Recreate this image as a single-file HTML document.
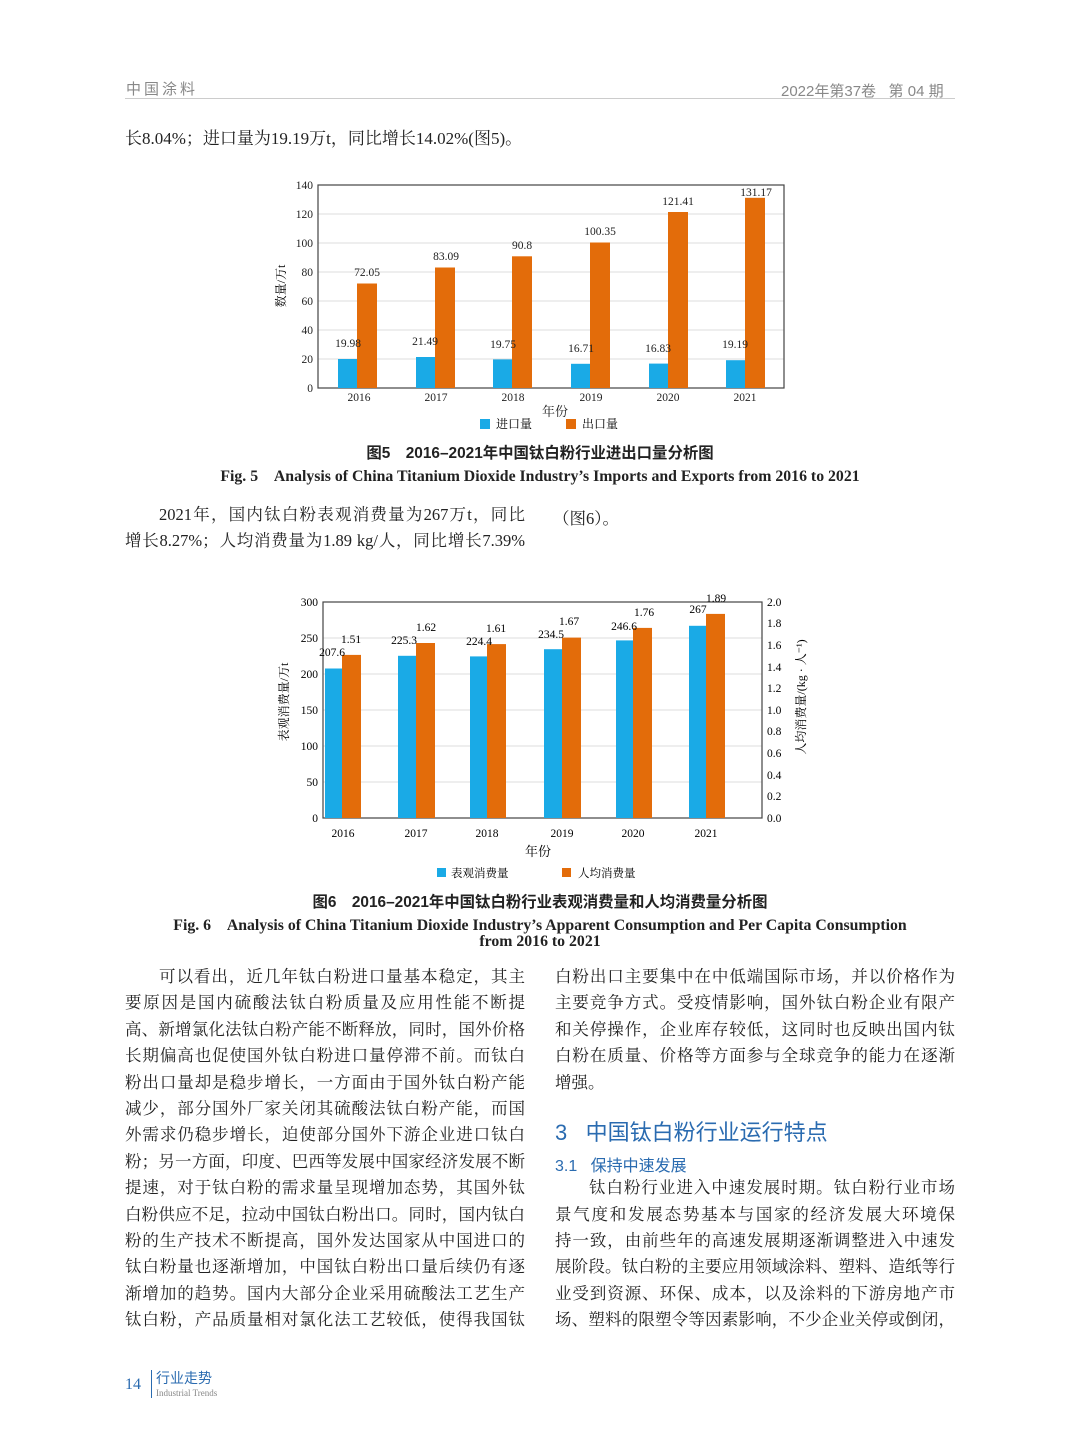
<!DOCTYPE html>
<html><head><meta charset="utf-8"><style>
body{margin:0;width:1080px;height:1454px;background:#fff;position:relative;overflow:hidden;font-family:"Liberation Serif","Noto Serif CJK SC",serif;color:#222}
.a{position:absolute;white-space:nowrap}
.ln{position:absolute;font-size:16.5px;line-height:20px;text-align:justify;text-align-last:justify;white-space:nowrap;overflow:visible}
.l{left:125px;width:400px}.r{left:555px;width:400px}
.cap{position:absolute;left:0;width:1080px;text-align:center;font-weight:bold;font-size:15.8px}
.cz{font-size:15.4px}
</style></head><body>
<div class="a" style="left:126px;top:78px;font-size:15px;color:#888;letter-spacing:3px;font-family:'Liberation Sans','Noto Sans CJK SC',sans-serif">中国涂料</div>
<div class="a" style="left:781px;top:80px;font-size:15px;color:#888;font-family:'Liberation Sans','Noto Sans CJK SC',sans-serif">2022年第37卷&nbsp;&nbsp;&nbsp;第 04 期</div>
<div class="a" style="left:125px;top:98px;width:830px;height:1px;background:#ccc"></div>
<div class="a" style="left:125px;top:124px;font-size:17px">长8.04%；进口量为19.19万t，同比增长14.02%(图5)。</div>

<svg class="a" style="left:0;top:0" width="1080" height="1454" font-family="Liberation Serif,Noto Serif CJK SC,serif">
<g stroke="#ddd" stroke-width="1">
<line x1="318" x2="784" y1="359" y2="359"/><line x1="318" x2="784" y1="330" y2="330"/><line x1="318" x2="784" y1="301" y2="301"/><line x1="318" x2="784" y1="272" y2="272"/><line x1="318" x2="784" y1="243" y2="243"/><line x1="318" x2="784" y1="214" y2="214"/>
</g>
<rect x="318" y="185" width="466" height="203" fill="none" stroke="#444" stroke-width="1.2"/>
<g font-size="11.5" text-anchor="end" fill="#222">
<text x="313" y="392">0</text><text x="313" y="363">20</text><text x="313" y="334">40</text><text x="313" y="305">60</text><text x="313" y="276">80</text><text x="313" y="247">100</text><text x="313" y="218">120</text><text x="313" y="189">140</text></g>
<g fill="#1aaae6">
<rect x="338" y="359" width="19" height="29"/><rect x="416" y="357" width="19" height="31"/><rect x="493" y="359.4" width="19" height="28.6"/><rect x="571" y="363.8" width="19" height="24.2"/><rect x="649" y="363.6" width="19" height="24.4"/><rect x="726" y="360.2" width="19" height="27.8"/></g>
<g fill="#e36c0a">
<rect x="357" y="283.5" width="20" height="104.5"/><rect x="435" y="267.5" width="20" height="120.5"/><rect x="512" y="256.3" width="20" height="131.7"/><rect x="590" y="242.5" width="20" height="145.5"/><rect x="668" y="212" width="20" height="176"/><rect x="745" y="197.8" width="20" height="190.2"/></g>
<g font-size="11.5" text-anchor="middle" fill="#222">
<text x="348" y="347">19.98</text><text x="425" y="345">21.49</text><text x="503" y="348">19.75</text><text x="581" y="352">16.71</text><text x="658" y="352">16.83</text><text x="735" y="348">19.19</text>
<text x="367" y="276">72.05</text><text x="446" y="260">83.09</text><text x="522" y="249">90.8</text><text x="600" y="235">100.35</text><text x="678" y="205">121.41</text><text x="756" y="196">131.17</text>
<text x="359" y="401">2016</text><text x="436" y="401">2017</text><text x="513" y="401">2018</text><text x="591" y="401">2019</text><text x="668" y="401">2020</text><text x="745" y="401">2021</text>
<text x="555" y="416" font-size="13">年份</text></g>
<text transform="translate(285,286) rotate(-90)" font-size="12" text-anchor="middle">数量/万t</text>
<rect x="480" y="419" width="10" height="10" fill="#1aaae6"/><text x="496" y="428" font-size="12">进口量</text>
<rect x="566" y="419" width="10" height="10" fill="#e36c0a"/><text x="582" y="428" font-size="12">出口量</text>

<g stroke="#ddd" stroke-width="1">
<line x1="323" x2="762" y1="782" y2="782"/><line x1="323" x2="762" y1="746" y2="746"/><line x1="323" x2="762" y1="710" y2="710"/><line x1="323" x2="762" y1="674" y2="674"/><line x1="323" x2="762" y1="638" y2="638"/></g>
<rect x="323" y="602" width="439" height="216" fill="none" stroke="#444" stroke-width="1.2"/>
<g font-size="11.5" text-anchor="end"><text x="318" y="822">0</text><text x="318" y="786">50</text><text x="318" y="750">100</text><text x="318" y="714">150</text><text x="318" y="678">200</text><text x="318" y="642">250</text><text x="318" y="606">300</text></g>
<g font-size="11.5"><text x="767" y="822">0.0</text><text x="767" y="800">0.2</text><text x="767" y="779">0.4</text><text x="767" y="757">0.6</text><text x="767" y="735">0.8</text><text x="767" y="714">1.0</text><text x="767" y="692">1.2</text><text x="767" y="671">1.4</text><text x="767" y="649">1.6</text><text x="767" y="627">1.8</text><text x="767" y="606">2.0</text></g>
<g fill="#1aaae6"><rect x="325" y="668.5" width="17" height="149.5"/><rect x="398" y="655.8" width="18" height="162.2"/><rect x="470" y="656.4" width="17" height="161.6"/><rect x="544" y="649.2" width="18" height="168.8"/><rect x="616" y="640.4" width="17" height="177.6"/><rect x="689" y="625.8" width="17" height="192.2"/></g>
<g fill="#e36c0a"><rect x="342" y="654.9" width="19" height="163.1"/><rect x="416" y="643" width="19" height="175"/><rect x="487" y="644.1" width="19" height="173.9"/><rect x="562" y="637.6" width="19" height="180.4"/><rect x="633" y="627.9" width="19" height="190.1"/><rect x="706" y="613.9" width="19" height="204.1"/></g>
<g font-size="11.5" text-anchor="middle">
<text x="332" y="656">207.6</text><text x="404" y="644">225.3</text><text x="479" y="645">224.4</text><text x="551" y="638">234.5</text><text x="624" y="630">246.6</text><text x="698" y="613">267</text>
<text x="351" y="643">1.51</text><text x="426" y="631">1.62</text><text x="496" y="632">1.61</text><text x="569" y="625">1.67</text><text x="644" y="616">1.76</text><text x="716" y="602">1.89</text>
<text x="343" y="837">2016</text><text x="416" y="837">2017</text><text x="487" y="837">2018</text><text x="562" y="837">2019</text><text x="633" y="837">2020</text><text x="706" y="837">2021</text>
<text x="538" y="856" font-size="13">年份</text></g>
<text transform="translate(288,702) rotate(-90)" font-size="12" text-anchor="middle">表观消费量/万t</text>
<text transform="translate(805,697) rotate(-90)" font-size="12" text-anchor="middle">人均消费量/(kg · 人⁻¹)</text>
<rect x="437" y="868" width="9" height="9" fill="#1aaae6"/><text x="451" y="877" font-size="11.5">表观消费量</text>
<rect x="562" y="868" width="9" height="9" fill="#e36c0a"/><text x="578" y="877" font-size="11.5">人均消费量</text>
</svg>

<div class="cap cz" style="top:441px;font-family:'Liberation Sans','Noto Sans CJK SC',sans-serif">图5　2016–2021年中国钛白粉行业进出口量分析图</div>
<div class="cap" style="top:463px">Fig. 5　Analysis of China Titanium Dioxide Industry’s Imports and Exports from 2016 to 2021</div>

<div class="ln l" style="top:505px;left:159px;width:366px">2021年，国内钛白粉表观消费量为267万t，同比</div>
<div class="ln l" style="top:531px">增长8.27%；人均消费量为1.89 kg/人，同比增长7.39%</div>
<div class="a" style="left:553px;top:505px;font-size:16.5px">（图6）。</div>

<div class="cap cz" style="top:890px;font-family:'Liberation Sans','Noto Sans CJK SC',sans-serif">图6　2016–2021年中国钛白粉行业表观消费量和人均消费量分析图</div>
<div class="cap" style="top:912px">Fig. 6　Analysis of China Titanium Dioxide Industry’s Apparent Consumption and Per Capita Consumption</div>
<div class="cap" style="top:933px">from 2016 to 2021</div>

<div class="ln l" style="top:967px;left:159px;width:366px">可以看出，近几年钛白粉进口量基本稳定，其主</div>
<div class="ln l" style="top:993px">要原因是国内硫酸法钛白粉质量及应用性能不断提</div>
<div class="ln l" style="top:1020px">高、新增氯化法钛白粉产能不断释放，同时，国外价格</div>
<div class="ln l" style="top:1046px">长期偏高也促使国外钛白粉进口量停滞不前。而钛白</div>
<div class="ln l" style="top:1073px">粉出口量却是稳步增长，一方面由于国外钛白粉产能</div>
<div class="ln l" style="top:1099px">减少，部分国外厂家关闭其硫酸法钛白粉产能，而国</div>
<div class="ln l" style="top:1125px">外需求仍稳步增长，迫使部分国外下游企业进口钛白</div>
<div class="ln l" style="top:1152px">粉；另一方面，印度、巴西等发展中国家经济发展不断</div>
<div class="ln l" style="top:1178px">提速，对于钛白粉的需求量呈现增加态势，其国外钛</div>
<div class="ln l" style="top:1205px">白粉供应不足，拉动中国钛白粉出口。同时，国内钛白</div>
<div class="ln l" style="top:1231px">粉的生产技术不断提高，国外发达国家从中国进口的</div>
<div class="ln l" style="top:1257px">钛白粉量也逐渐增加，中国钛白粉出口量后续仍有逐</div>
<div class="ln l" style="top:1284px">渐增加的趋势。国内大部分企业采用硫酸法工艺生产</div>
<div class="ln l" style="top:1310px">钛白粉，产品质量相对氯化法工艺较低，使得我国钛</div>

<div class="ln r" style="top:967px">白粉出口主要集中在中低端国际市场，并以价格作为</div>
<div class="ln r" style="top:993px">主要竞争方式。受疫情影响，国外钛白粉企业有限产</div>
<div class="ln r" style="top:1020px">和关停操作，企业库存较低，这同时也反映出国内钛</div>
<div class="ln r" style="top:1046px">白粉在质量、价格等方面参与全球竞争的能力在逐渐</div>
<div class="a" style="left:555px;top:1073px;font-size:16.5px;line-height:20px">增强。</div>
<div class="a" style="left:555px;top:1115px;font-size:22px;color:#2a6bb0;font-family:'Liberation Sans','Noto Sans CJK SC',sans-serif">3&nbsp;&nbsp;&nbsp;中国钛白粉行业运行特点</div>
<div class="a" style="left:555px;top:1152px;font-size:16px;color:#2a6bb0;font-family:'Liberation Sans','Noto Sans CJK SC',sans-serif">3.1&nbsp;&nbsp;&nbsp;保持中速发展</div>
<div class="ln r" style="top:1178px;left:589px;width:366px">钛白粉行业进入中速发展时期。钛白粉行业市场</div>
<div class="ln r" style="top:1205px">景气度和发展态势基本与国家的经济发展大环境保</div>
<div class="ln r" style="top:1231px">持一致，由前些年的高速发展期逐渐调整进入中速发</div>
<div class="ln r" style="top:1257px">展阶段。钛白粉的主要应用领域涂料、塑料、造纸等行</div>
<div class="ln r" style="top:1284px">业受到资源、环保、成本，以及涂料的下游房地产市</div>
<div class="ln r" style="top:1310px">场、塑料的限塑令等因素影响，不少企业关停或倒闭，</div>

<div class="a" style="left:125px;top:1376px;font-size:16px;color:#2a6bb0">14</div>
<div class="a" style="left:151px;top:1370px;width:1px;height:28px;background:#2a6bb0"></div>
<div class="a" style="left:156px;top:1368px;font-size:14px;color:#2a6bb0;font-family:'Liberation Sans','Noto Sans CJK SC',sans-serif">行业走势</div>
<div class="a" style="left:156px;top:1388px;font-size:9px;color:#888">Industrial Trends</div>
</body></html>
